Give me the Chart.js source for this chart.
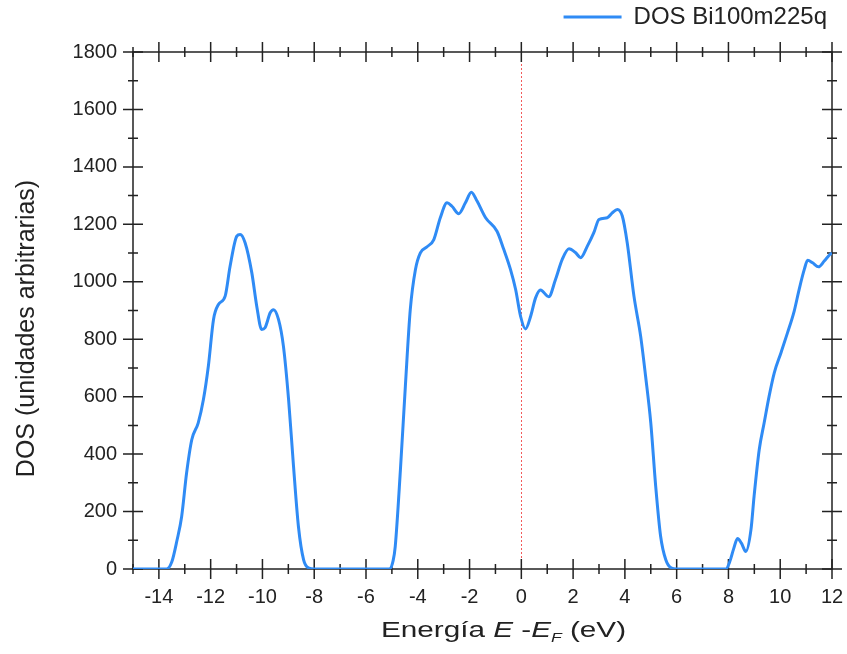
<!DOCTYPE html>
<html>
<head>
<meta charset="utf-8">
<script src="https://cdn.jsdelivr.net/npm/chart.js@4"></script>
<style>
  html, body { margin: 0; padding: 0; background: #fff; }
  #wrap { width: 847px; height: 654px; }
</style>
</head>
<body>
<div id="wrap"><canvas id="myChart" width="847" height="654"></canvas></div>

<script>
const FONT = 'Arial, "Liberation Sans", sans-serif';

// Energy (eV) and DOS values
const energy = [-15, -14, -13.7, -13.5, -13.3, -13.12, -12.93, -12.73, -12.48, -12.28, -12.09, -11.89, -11.7, -11.44,
  -11.25, -10.99, -10.86, -10.67, -10.41, -10.22, -10.03, -9.9, -9.7, -9.57, -9.38, -9.19, -8.99, -8.8, -8.61, -8.41,
  -8.2, -8.0, -7, -6, -5.1, -4.95, -4.87, -4.67, -4.48, -4.29, -4.09, -3.9, -3.64, -3.38, -3.13, -2.87, -2.68, -2.42,
  -2.16, -1.93, -1.71, -1.38, -0.94, -0.68, -0.42, -0.22, -0.03, 0.16, 0.36, 0.55, 0.74, 1.06, 1.32, 1.58, 1.84, 2.1,
  2.29, 2.55, 2.8, 3.0, 3.32, 3.51, 3.71, 3.9, 4.09, 4.35, 4.61, 4.8, 5.0, 5.19, 5.38, 5.58, 5.8, 6, 7, 7.9, 8.05, 8.2,
  8.35, 8.5, 8.67, 8.87, 8.99, 9.19, 9.38, 9.57, 9.77, 10.03, 10.28, 10.54, 10.73, 10.93, 11.06, 11.25, 11.48, 11.7,
  11.92, 12];
const dos = [0, 0, 0, 25, 100, 183, 334, 450, 509, 590, 706, 869, 921, 950,
  1054, 1159, 1165, 1136, 1031, 915, 834, 840, 892, 903, 869, 776, 590, 358, 148, 32,
  3, 0, 0, 0, 0, 30, 79, 346, 636, 903, 1043, 1101, 1122, 1147, 1223, 1275, 1263, 1237,
  1275, 1312, 1281, 1223, 1176, 1113, 1043, 973, 880, 836, 880, 944, 971, 948, 1008, 1078, 1115, 1101,
  1084, 1124, 1171, 1217, 1223, 1240, 1252, 1229, 1136, 950, 810, 671, 509, 288, 114, 32, 3, 0, 0, 0, 25, 70,
  106, 90, 61, 137, 253, 416, 509, 601, 683, 753, 822, 898, 973, 1043, 1075, 1066, 1052, 1072,
  1095, 1100];

const xTickValues = [-14, -12, -10, -8, -6, -4, -2, 0, 2, 4, 6, 8, 10, 12];
const yTickValues = [0, 200, 400, 600, 800, 1000, 1200, 1400, 1600, 1800];
const xMinorStep = 1;
const yMinorStep = 100;

const points = energy.map((e, i) => ({x: e, y: dos[i]}));

// frame, crossing tick marks, Fermi level line and axis titles
const framePlugin = {
  id: 'frame',
  beforeDatasetsDraw(chart) {
    const {ctx, chartArea: a, scales: {x, y}} = chart;
    ctx.save();

    // dotted red line at E = EF
    const x0 = Math.round(x.getPixelForValue(0)) + 0.5;
    ctx.strokeStyle = '#f25a5a';
    ctx.lineWidth = 1;
    ctx.setLineDash([2, 2]);
    ctx.beginPath();
    ctx.moveTo(x0, a.top);
    ctx.lineTo(x0, a.bottom);
    ctx.stroke();
    ctx.setLineDash([]);

    ctx.strokeStyle = '#222';
    ctx.lineWidth = 1.5;
    ctx.strokeRect(a.left, a.top, a.right - a.left, a.bottom - a.top);

    ctx.beginPath();
    for (let v = x.min; v <= x.max; v += xMinorStep) {
      const px = x.getPixelForValue(v);
      const h = xTickValues.includes(v) ? 10 : 5;
      ctx.moveTo(px, a.bottom - h); ctx.lineTo(px, a.bottom + h);
      ctx.moveTo(px, a.top - h); ctx.lineTo(px, a.top + h);
    }
    for (let v = y.min; v <= y.max; v += yMinorStep) {
      const py = y.getPixelForValue(v);
      const w = yTickValues.includes(v) ? 10 : 5;
      ctx.moveTo(a.left - w, py); ctx.lineTo(a.left + w, py);
      ctx.moveTo(a.right - w, py); ctx.lineTo(a.right + w, py);
    }
    ctx.stroke();
    ctx.restore();
  },
  afterDraw(chart) {
    const {ctx, chartArea: a} = chart;
    ctx.save();
    ctx.fillStyle = '#222';

    // y title
    ctx.save();
    ctx.translate(27, (a.top + a.bottom) / 2 + 18);
    ctx.rotate(-Math.PI / 2);
    ctx.font = `25px ${FONT}`;
    ctx.textAlign = 'center';
    ctx.textBaseline = 'middle';
    ctx.fillText('DOS (unidades arbitrarias)', 0, 0);
    ctx.restore();

    // x title with italic E and subscript F (source figure text is stretched sideways)
    const size = 22, stretch = 1.35;
    const parts = [
      {t: 'Energía ', f: `${size}px ${FONT}`},
      {t: 'E', f: `italic ${size}px ${FONT}`},
      {t: ' -', f: `${size}px ${FONT}`},
      {t: 'E', f: `italic ${size}px ${FONT}`},
      {t: 'F', f: `italic ${Math.round(size * 0.6)}px ${FONT}`, sub: true},
      {t: ' (eV)', f: `${size}px ${FONT}`}
    ];
    ctx.textBaseline = 'alphabetic';
    let total = 0;
    parts.forEach(p => { ctx.font = p.f; p.w = ctx.measureText(p.t).width; total += p.w; });
    const start = (a.left + a.right) / 2 + 21 - total * stretch / 2;
    ctx.translate(start, 637);
    ctx.scale(stretch, 1);
    let cx = 0;
    parts.forEach(p => {
      ctx.font = p.f;
      ctx.fillText(p.t, cx, p.sub ? 5 : 0);
      cx += p.w;
    });
    ctx.restore();
  }
};

const data = {
  datasets: [{
    label: 'DOS Bi100m225q',
    data: points,
    borderColor: '#2f8bf5',
    backgroundColor: '#2f8bf5',
    borderWidth: 3,
    pointRadius: 0,
    cubicInterpolationMode: 'monotone',
    fill: false
  }]
};

const config = {
  type: 'line',
  data: data,
  options: {
    responsive: false,
    animation: false,
    layout: { padding: { left: 0, right: 15, top: 0, bottom: 0 } },
    plugins: {
      legend: {
        position: 'top',
        align: 'end',
        labels: {
          usePointStyle: true,
          pointStyle: 'line',
          pointStyleWidth: 58,
          padding: 5,
          color: '#222',
          font: { family: FONT, size: 24 }
        }
      },
      tooltip: { enabled: false }
    },
    scales: {
      x: {
        type: 'linear',
        min: -15,
        max: 12,
        afterFit: s => { s.height = 85; s.paddingLeft = 0; s.paddingRight = 0; },
        afterBuildTicks: s => { s.ticks = xTickValues.map(v => ({value: v})); },
        grid: { display: false, drawTicks: false },
        border: { display: false },
        ticks: { padding: 16, color: '#222', font: { family: FONT, size: 20 }, maxRotation: 0 }
      },
      x2: {
        type: 'linear',
        position: 'top',
        min: -15,
        max: 12,
        afterFit: s => { s.height = 13; },
        grid: { display: false, drawTicks: false },
        border: { display: false },
        ticks: { display: false }
      },
      y: {
        min: 0,
        max: 1800,
        afterFit: s => { s.width = 133; },
        afterBuildTicks: s => { s.ticks = yTickValues.map(v => ({value: v})); },
        grid: { display: false, drawTicks: false },
        border: { display: false },
        ticks: { padding: 16, color: '#222', font: { family: FONT, size: 20 }, callback: v => String(v) }
      }
    }
  },
  plugins: [framePlugin]
};

var myChart = new Chart(
  document.getElementById('myChart'),
  config
);
</script>
</body>
</html>
